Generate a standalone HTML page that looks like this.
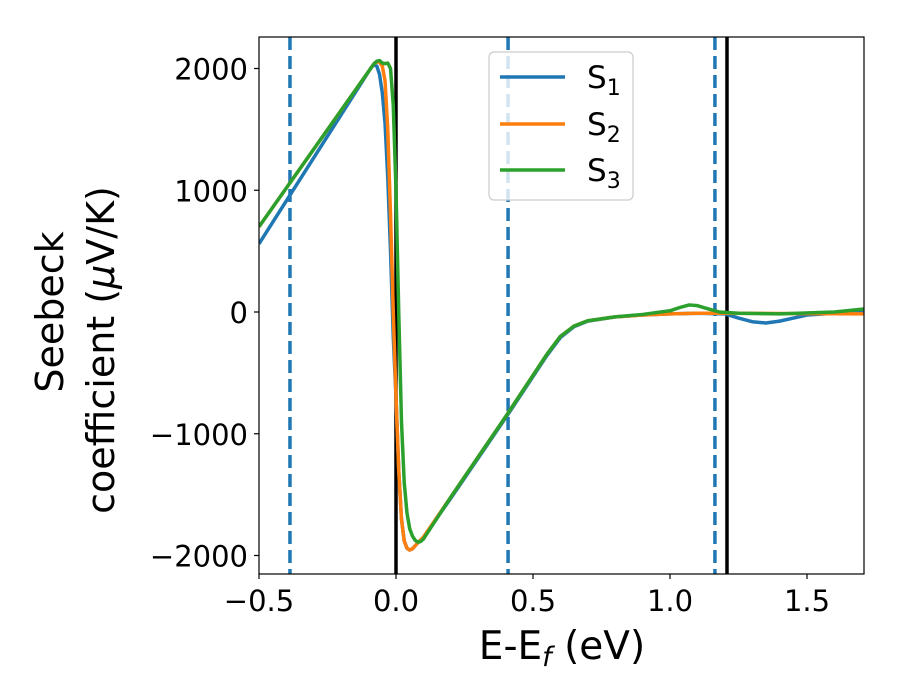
<!DOCTYPE html>
<html><head><meta charset="utf-8"><style>
body{margin:0;background:#fff}
svg{display:block;font-family:"DejaVu Sans","Liberation Sans",sans-serif}
</style></head><body>
<svg id="chart" width="900" height="700">
<g id="plot"></g>
<g><text x="562" y="659" text-anchor="middle" font-size="39">E-E<tspan font-style="italic" font-size="27" dy="7">f</tspan><tspan dy="-7"> (eV)</tspan></text></g>
<g font-size="38">
<text transform="translate(63,312) rotate(-90)" text-anchor="middle">Seebeck</text>
<text transform="translate(114,350) rotate(-90)" text-anchor="middle">coefficient  (<tspan font-style="italic">μ</tspan>V/K)</text>
</g>
<g>
<rect x="489" y="52" width="144" height="148" rx="5" fill="#fff" fill-opacity="0.8" stroke="#ccc" stroke-width="1.2"/>
<g><line x1="500" x2="565" y1="77" y2="77" stroke="#1f77b4" stroke-width="3.5"/><text x="587" y="88" font-size="31">S<tspan font-size="22" dy="7">1</tspan></text></g>
<g><line x1="500" x2="565" y1="124" y2="124" stroke="#ff7f0e" stroke-width="3.5"/><text x="587" y="135" font-size="31">S<tspan font-size="22" dy="7">2</tspan></text></g>
<g><line x1="500" x2="565" y1="170" y2="170" stroke="#2ca02c" stroke-width="3.5"/><text x="587" y="181" font-size="31">S<tspan font-size="22" dy="7">3</tspan></text></g>
</g>
</svg>
<script>
const xTicks=[-0.5,0.0,0.5,1.0,1.5];
const xTickLabels=["\u22120.5","0.0","0.5","1.0","1.5"];
const yTicks=[-2000,-1000,0,1000,2000];
const yTickLabels=["\u22122000","\u22121000","0","1000","2000"];
const dashedLines=[-0.387,0.409,1.164];
const solidLines=[0.0,1.208];
const s1x=[-0.5,-0.09,-0.08,-0.07,-0.06,-0.05,-0.04,-0.03,-0.02,-0.01,0.0,0.01,0.02,0.03,0.04,0.05,0.06,0.07,0.08,0.1,0.2,0.3,0.4,0.5,0.55,0.6,0.65,0.7,0.8,0.9,1.0,1.1,1.2,1.25,1.3,1.35,1.4,1.5,1.6,1.708];
const s1y=[560,2010,2030,2020,1950,1800,1550,1100,500,-200,-700,-1300,-1700,-1880,-1940,-1955,-1945,-1920,-1895,-1850,-1530,-1200,-870,-530,-360,-210,-120,-75,-40,-25,-15,-10,-15,-50,-80,-90,-75,-25,-10,-5];
const s2x=[-0.5,-0.08,-0.07,-0.06,-0.05,-0.04,-0.03,-0.02,-0.01,0.0,0.01,0.02,0.03,0.04,0.05,0.06,0.07,0.08,0.1,0.2,0.3,0.4,0.5,0.55,0.6,0.65,0.7,0.8,0.9,1.0,1.1,1.2,1.4,1.6,1.708];
const s2y=[700,2040,2055,2050,2020,1900,1500,800,0,-700,-1300,-1700,-1880,-1940,-1955,-1945,-1920,-1895,-1850,-1520,-1190,-860,-520,-350,-200,-115,-72,-40,-25,-15,-10,-10,-12,-14,-15];
const s3x=[-0.5,-0.08,-0.07,-0.06,-0.05,-0.04,-0.03,-0.02,-0.01,0.0,0.01,0.02,0.03,0.04,0.05,0.06,0.07,0.08,0.09,0.1,0.2,0.3,0.4,0.5,0.55,0.6,0.65,0.7,0.8,0.9,1.0,1.04,1.07,1.1,1.14,1.18,1.25,1.4,1.6,1.708];
const s3y=[700,2040,2060,2065,2045,2040,2045,2000,1700,1000,0,-900,-1400,-1650,-1780,-1840,-1875,-1890,-1885,-1865,-1520,-1190,-860,-520,-350,-200,-115,-72,-40,-20,10,40,58,52,25,0,-10,-15,0,25];
const L=259,R=864,T=37,B=574;
const X=v=>396+v*274;
const Y=v=>312-v*0.12175;
const NS="http://www.w3.org/2000/svg";
const g=document.getElementById('plot');
function mk(t,a,p){const e=document.createElementNS(NS,t);for(const k in a)e.setAttribute(k,a[k]);(p||g).appendChild(e);return e;}
const clip=mk('clipPath',{id:'cp'});mk('rect',{x:L,y:T,width:R-L,height:B-T},clip);
dashedLines.forEach(v=>{const e=mk('line',{x1:X(v),x2:X(v),y1:T,y2:B,stroke:'#1f77b4','stroke-width':3.5,'stroke-dasharray':'13,6'});

});
solidLines.forEach(v=>{const e=mk('line',{x1:X(v),x2:X(v),y1:T,y2:B,stroke:'#000','stroke-width':3.5});

});
function path(xs,ys){return 'M'+xs.map((v,i)=>X(v)+','+Y(ys[i])).join(' L');}
[[s1x,s1y,'#1f77b4','series-s1'],[s2x,s2y,'#ff7f0e','series-s2'],[s3x,s3y,'#2ca02c','series-s3']].forEach(s=>{
const e=mk('path',{d:path(s[0],s[1]),fill:'none',stroke:s[2],'stroke-width':3.5,'clip-path':'url(#cp)','stroke-linejoin':'round'});

});
const fr=mk('rect',{x:L,y:T,width:R-L,height:B-T,fill:'none',stroke:'#000','stroke-width':1.2});


xTicks.forEach((v,i)=>{mk('line',{x1:X(v),x2:X(v),y1:B,y2:B+5,stroke:'#000','stroke-width':1.2});
const t=mk('text',{x:X(v),y:B+37,'text-anchor':'middle','font-size':29});t.textContent=xTickLabels[i];

});
yTicks.forEach((v,i)=>{mk('line',{x1:L-5,x2:L,y1:Y(v),y2:Y(v),stroke:'#000','stroke-width':1.2});
const t=mk('text',{x:L-11,y:Y(v)+11,'text-anchor':'end','font-size':29});t.textContent=yTickLabels[i];

});
</script>
</body></html>
